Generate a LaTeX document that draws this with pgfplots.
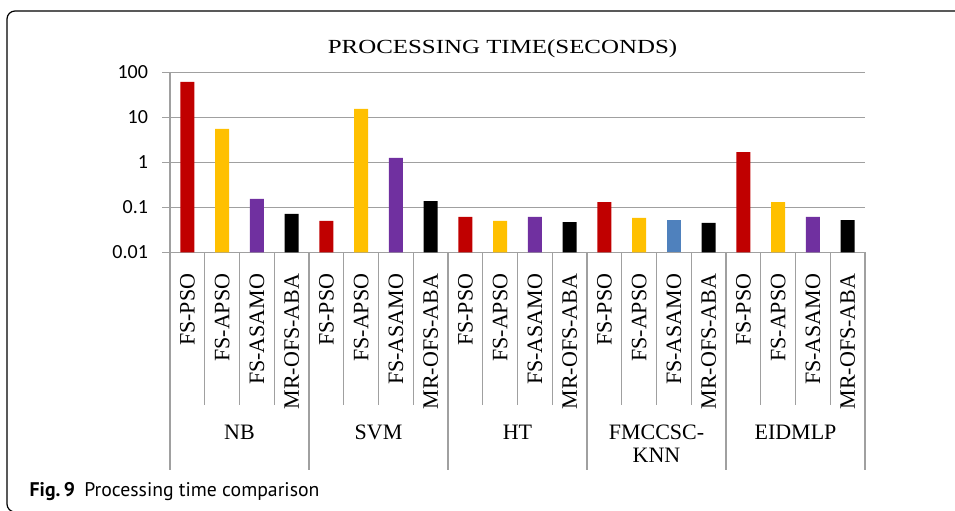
\documentclass[border=0pt]{standalone}
\usepackage{pgfplots}
\pgfplotsset{compat=1.18}
\usepackage{fontspec}
\setmainfont{Liberation Serif}
\newfontfamily\calibri{Carlito}
\newfontfamily\capfont{PT Sans}
\definecolor{gridgray}{RGB}{160,160,160}
\definecolor{cred}{RGB}{192,0,0}
\definecolor{cyellow}{RGB}{255,192,0}
\definecolor{cpurple}{RGB}{112,48,160}
\definecolor{cblue}{RGB}{79,129,189}
\begin{document}
\begin{tikzpicture}
\begin{scope}[x=0.75pt,y=0.75pt]
\path[use as bounding box] (0,0) rectangle (955,510);
\draw[line width=0.9pt, rounded corners=6pt] (965,-2) -- (7,-2) -- (7,499) -- (965,499);
\node[anchor=base, font=\fontsize{15}{18}\selectfont] at (502.5,456.7) {\scalebox{1.245}[1]{PROCESSING TIME(SECONDS)}};
\node[anchor=base west, font=\capfont\fontsize{14.8}{17}\selectfont] at (25,14) {\textbf{Fig.\,9}\hspace{7pt}Processing time comparison};
\end{scope}
\begin{axis}[
  at={(127.5pt,193.275pt)}, anchor=south west,
  scale only axis, width=521.25pt, height=135pt,
  ymode=log, ymin=0.01, ymax=100, log origin y=infty,
  xmin=-0.5, xmax=19.5,
  ybar, bar width=10.5pt, bar shift=0pt,
  axis x line*=bottom, axis y line*=left,
  axis line style={gridgray, line width=0.8pt, -},
  ymajorgrids, grid style={gridgray, line width=0.8pt},
  yminorticks=false,
  ytick={0.01,0.1,1,10,100},
  yticklabels={0.01,0.1,1,10,100},
  yticklabel style={font=\calibri\fontsize{15}{18}\selectfont, anchor=east, xshift=-7pt},
  ytick style={gridgray, line width=0.8pt},
  tick align=outside, major tick length=6pt,
  xtick={0,...,19},
  xticklabels={FS-PSO,FS-APSO,FS-ASAMO,MR-OFS-ABA,FS-PSO,FS-APSO,FS-ASAMO,MR-OFS-ABA,FS-PSO,FS-APSO,FS-ASAMO,MR-OFS-ABA,FS-PSO,FS-APSO,FS-ASAMO,MR-OFS-ABA,FS-PSO,FS-APSO,FS-ASAMO,MR-OFS-ABA},
  x tick style={draw=none},
  xticklabel style={font=\fontsize{16.5}{19}\selectfont, yshift=-6.5pt, rotate=90, anchor=east},
  clip=false,
]
\addplot[fill=cred, draw=none] coordinates {(0,61) (4,0.05) (8,0.061) (12,0.131) (16,1.69)};
\addplot[fill=cyellow, draw=none] coordinates {(1,5.5) (5,15.3) (9,0.05) (13,0.058) (17,0.131)};
\addplot[fill=cpurple, draw=none] coordinates {(2,0.153) (6,1.25) (10,0.061) (18,0.061)};
\addplot[fill=cblue, draw=none] coordinates {(14,0.052)};
\addplot[fill=black, draw=none] coordinates {(3,0.071) (7,0.138) (11,0.047) (15,0.045) (19,0.052)};
\pgfplotsinvokeforeach{0.5,1.5,2.5,4.5,5.5,6.5,8.5,9.5,10.5,12.5,13.5,14.5,16.5,17.5,18.5}{
  \draw[gridgray, line width=0.8pt] (axis cs:#1,0.01) -- ++(0pt,-114.75pt);}
\pgfplotsinvokeforeach{-0.5,3.5,7.5,11.5,15.5,19.5}{
  \draw[gridgray, line width=0.8pt] (axis cs:#1,0.01) -- ++(0pt,-163.5pt);}
\node[anchor=base, font=\fontsize{16.5}{19}\selectfont] at ([yshift=-140.25pt]axis cs:1.5,0.01) {NB};
\node[anchor=base, font=\fontsize{16.5}{19}\selectfont] at ([yshift=-140.25pt]axis cs:5.5,0.01) {SVM};
\node[anchor=base, font=\fontsize{16.5}{19}\selectfont] at ([yshift=-140.25pt]axis cs:9.5,0.01) {HT};
\node[anchor=base, font=\fontsize{16.5}{19}\selectfont] at ([yshift=-140.25pt]axis cs:13.5,0.01) {FMCCSC-};
\node[anchor=base, font=\fontsize{16.5}{19}\selectfont] at ([yshift=-158pt]axis cs:13.5,0.01) {KNN};
\node[anchor=base, font=\fontsize{16.5}{19}\selectfont] at ([yshift=-140.25pt]axis cs:17.5,0.01) {EIDMLP};
\end{axis}
\end{tikzpicture}
\end{document}
